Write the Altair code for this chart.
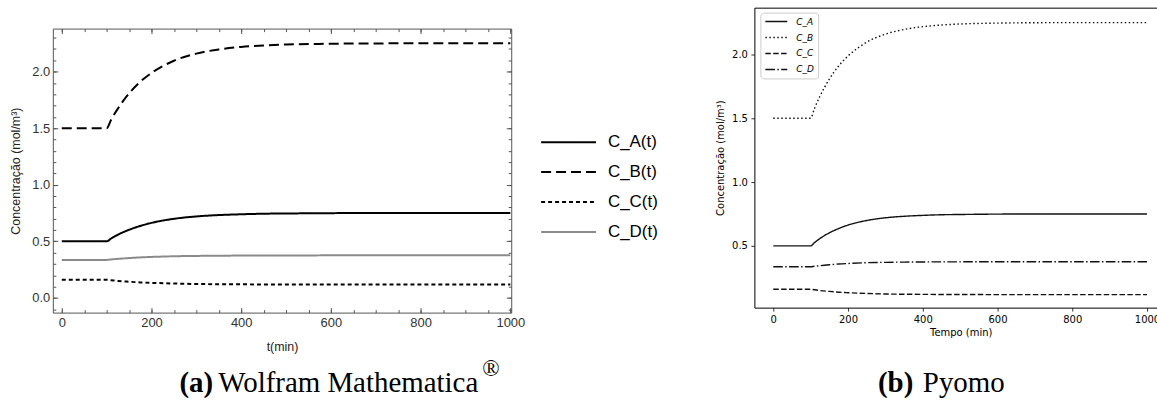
import altair as alt
import pandas as pd

# ---- data -------------------------------------------------------------------
time_min = [0, 100, 110, 125, 150, 175, 200, 250, 300, 350, 400, 450, 500, 600, 700, 800, 900, 1000]
c_a = [0.500, 0.500, 0.525, 0.558, 0.602, 0.636, 0.663, 0.699, 0.720, 0.732, 0.739, 0.744, 0.746, 0.749, 0.750, 0.750, 0.750, 0.750]
c_b = [1.500, 1.500, 1.575, 1.673, 1.807, 1.910, 1.988, 2.096, 2.159, 2.196, 2.218, 2.231, 2.239, 2.246, 2.249, 2.250, 2.250, 2.250]
c_c = [0.160, 0.160, 0.156, 0.150, 0.143, 0.137, 0.133, 0.127, 0.123, 0.121, 0.120, 0.119, 0.119, 0.118, 0.118, 0.118, 0.118, 0.118]
c_d = [0.336, 0.336, 0.340, 0.345, 0.352, 0.358, 0.362, 0.368, 0.371, 0.373, 0.374, 0.375, 0.375, 0.376, 0.376, 0.376, 0.376, 0.376]

series_a = ["C_A(t)", "C_B(t)", "C_C(t)", "C_D(t)"]
series_b = ["C_A", "C_B", "C_C", "C_D"]

x_major = [0, 200, 400, 600, 800, 1000]
x_minor_a = [0, 50, 100, 150, 200, 250, 300, 350, 400, 450, 500, 550, 600, 650, 700, 750, 800, 850, 900, 950, 1000]
y_major_a = [0.0, 0.5, 1.0, 1.5, 2.0]
y_minor_a = [-0.1, 0.0, 0.1, 0.2, 0.3, 0.4, 0.5, 0.6, 0.7, 0.8, 0.9, 1.0, 1.1, 1.2, 1.3, 1.4, 1.5, 1.6, 1.7, 1.8, 1.9, 2.0, 2.1, 2.2, 2.3]
y_major_b = [0.5, 1.0, 1.5, 2.0]

caption_a = ["(a)", "Wolfram Mathematica", "®"]
caption_b = ["(b)", "Pyomo"]


def long_table(names):
    rows = []
    for name, vals in zip(names, [c_a, c_b, c_c, c_d]):
        for t, v in zip(time_min, vals):
            rows.append({"t": t, "c": v, "s": name})
    return pd.DataFrame(rows)


df_a = long_table(series_a)
df_b = long_table(series_b)
one = pd.DataFrame({"k": [0]})

# ---- panel (a): Mathematica style -------------------------------------------
W1, H1 = 460, 285
FRAME = "#555555"
xs_a = alt.Scale(domain=[-20, 1002], nice=False, zero=False)
ys_a = alt.Scale(domain=[-0.13, 2.38], nice=False, zero=False)


def in_axis(orient, values, size, labels=False, **kw):
    return alt.Axis(orient=orient, values=values, offset=-size, tickSize=size,
                    domain=False, grid=False, tickColor=FRAME, tickWidth=1,
                    labels=labels, **kw)


ax_bottom_a = in_axis("bottom", x_major, 5, labels=True, labelPadding=4, format="d",
                      labelFont="Liberation Sans", labelFontSize=13, labelColor="#333333",
                      labelFlush=False, labelOverlap=False,
                      title="t(min)", titleFont="Liberation Sans", titleFontSize=12.5,
                      titleFontWeight="normal", titleColor="#222222", titlePadding=11)
ax_left_a = in_axis("left", y_major_a, 5, labels=True, labelPadding=3, format=".1f",
                    labelFont="Liberation Sans", labelFontSize=13, labelColor="#333333",
                    labelOverlap=False,
                    title="Concentração (mol/m³)", titleFont="Liberation Sans", titleFontSize=12.5,
                    titleFontWeight="normal", titleColor="#222222", titlePadding=9)

leg_a = alt.Legend(title=None, orient="none", legendX=489, legendY=104,
                   symbolType="stroke", symbolSize=3025, symbolStrokeWidth=2,
                   labelFont="Liberation Sans", labelFontSize=17, labelColor="#000000",
                   labelOffset=11, clipHeight=20, rowPadding=10, padding=0)

color_a = alt.Scale(domain=series_a, range=["#000000", "#000000", "#000000", "#8a8a8a"])
dash_a = alt.Scale(domain=series_a, range=[[1, 0], [10, 5], [4, 3], [1, 0]])

base_a = alt.Chart(df_a)
lines_a = base_a.mark_line(strokeWidth=2, interpolate="monotone").encode(
    x=alt.X("t:Q", scale=xs_a, axis=ax_bottom_a),
    y=alt.Y("c:Q", scale=ys_a, axis=ax_left_a),
    color=alt.Color("s:N", scale=color_a, legend=leg_a),
    strokeDash=alt.StrokeDash("s:N", scale=dash_a, legend=leg_a),
)
ghost_major_a = base_a.mark_line(opacity=0).encode(
    x=alt.X("t:Q", scale=xs_a, axis=in_axis("top", x_major, 5, title=None)),
    y=alt.Y("c:Q", scale=ys_a, axis=in_axis("right", y_major_a, 5, title=None)),
    detail="s:N",
)
ghost_minor_a = base_a.mark_line(opacity=0).encode(
    x=alt.X("t:Q", scale=xs_a, axis=in_axis("bottom", x_minor_a, 3, title=None)),
    y=alt.Y("c:Q", scale=ys_a, axis=in_axis("left", y_minor_a, 3, title=None)),
    detail="s:N",
)
ghost_minor_a2 = base_a.mark_line(opacity=0).encode(
    x=alt.X("t:Q", scale=xs_a, axis=in_axis("top", x_minor_a, 3, title=None)),
    y=alt.Y("c:Q", scale=ys_a, axis=in_axis("right", y_minor_a, 3, title=None)),
    detail="s:N",
)

cap_font = "Liberation Serif"
cap_a1 = alt.Chart(one).mark_text(font=cap_font, fontSize=29, fontWeight="bold", align="left",
                                  baseline="alphabetic", color="#000000").encode(
    x=alt.value(127), y=alt.value(365), text=alt.value(caption_a[0]))
cap_a2 = alt.Chart(one).mark_text(font=cap_font, fontSize=29, align="left",
                                  baseline="alphabetic", color="#000000").encode(
    x=alt.value(166), y=alt.value(365), text=alt.value(caption_a[1]))
cap_a3 = alt.Chart(one).mark_text(font=cap_font, fontSize=23, align="left",
                                  baseline="alphabetic", color="#000000").encode(
    x=alt.value(431), y=alt.value(349), text=alt.value(caption_a[2]))

panel_a = alt.layer(lines_a, ghost_major_a, ghost_minor_a, ghost_minor_a2,
                    cap_a1, cap_a2, cap_a3).resolve_axis(
    x="independent", y="independent").properties(
    width=W1, height=H1,
    view=alt.ViewBackground(stroke=FRAME, strokeWidth=1))

# ---- panel (b): matplotlib / Pyomo style ------------------------------------
# plot frame reaches 21 px above the shared row origin of panel (a)
W2, H2 = 404, 280
RAISE = 21
xs_b = alt.Scale(domain=[-50.5, 1026.8], nice=False, zero=False)
ys_b = alt.Scale(domain=[0.016, 2.367], nice=False, zero=False, range=[H2, -RAISE])

ax_bottom_b = alt.Axis(orient="bottom", values=x_major, tickSize=3.5, tickColor="#000000",
                       tickWidth=0.8, domain=True, domainColor="#000000", domainWidth=1,
                       grid=False, labelPadding=3.5, format="d", labelFont="DejaVu Sans",
                       labelFontSize=10, labelColor="#000000", labelFlush=False,
                       labelOverlap=False, title="Tempo (min)", titleFont="DejaVu Sans",
                       titleFontSize=10, titleFontWeight="normal", titleColor="#000000",
                       titlePadding=3, titleX=207)
ax_left_b = alt.Axis(orient="left", values=y_major_b, tickSize=3.5, tickColor="#000000",
                     tickWidth=0.8, domain=True, domainColor="#000000", domainWidth=1,
                     grid=False, labelPadding=3.5, format=".1f", labelFont="DejaVu Sans",
                     labelFontSize=10, labelColor="#000000", labelOverlap=False,
                     title="Concentração (mol/m³)", titleFont="DejaVu Sans",
                     titleFontSize=10, titleFontWeight="normal", titleColor="#000000",
                     titlePadding=6)
ax_top_b = alt.Axis(orient="top", values=x_major, ticks=False, labels=False, domain=True,
                    domainColor="#000000", domainWidth=1, grid=False, title=None,
                    offset=RAISE)

leg_b = alt.Legend(title=None, orient="none", legendX=6, legendY=5 - RAISE,
                   symbolType="stroke", symbolSize=484, symbolStrokeWidth=1.5,
                   labelFont="DejaVu Sans", labelFontSize=9, labelFontStyle="italic",
                   labelColor="#000000", labelOffset=8, clipHeight=10, rowPadding=6,
                   padding=4, strokeColor="#cccccc", fillColor="#ffffff", cornerRadius=3)

color_b = alt.Scale(domain=series_b, range=["#111111", "#111111", "#111111", "#111111"])
dash_b = alt.Scale(domain=series_b, range=[[1, 0], [1.5, 2.5], [5.5, 2.4], [9.6, 2.4, 1.5, 2.4]])

base_b = alt.Chart(df_b)
lines_b = base_b.mark_line(strokeWidth=1.4, interpolate="monotone").encode(
    x=alt.X("t:Q", scale=xs_b, axis=ax_bottom_b),
    y=alt.Y("c:Q", scale=ys_b, axis=ax_left_b),
    color=alt.Color("s:N", scale=color_b, legend=leg_b),
    strokeDash=alt.StrokeDash("s:N", scale=dash_b, legend=leg_b),
)
ghost_b = base_b.mark_line(opacity=0).encode(
    x=alt.X("t:Q", scale=xs_b, axis=ax_top_b),
    y=alt.Y("c:Q", scale=ys_b, axis=None),
    detail="s:N",
)
cap_b1 = alt.Chart(one).mark_text(font=cap_font, fontSize=29, fontWeight="bold", align="left",
                                  baseline="alphabetic", color="#000000").encode(
    x=alt.value(124), y=alt.value(365), text=alt.value(caption_b[0]))
cap_b2 = alt.Chart(one).mark_text(font=cap_font, fontSize=29, align="left",
                                  baseline="alphabetic", color="#000000").encode(
    x=alt.value(169), y=alt.value(365), text=alt.value(caption_b[1]))

panel_b = alt.layer(lines_b, ghost_b, cap_b1, cap_b2).resolve_axis(
    x="independent", y="independent").properties(
    width=W2, height=H2,
    view=alt.ViewBackground(stroke="transparent", strokeWidth=0))

chart = alt.hconcat(panel_a, panel_b, spacing=56).properties(
    padding={"left": 9, "top": 7, "right": -3, "bottom": 0},
    background="#ffffff",
).resolve_scale(color="independent", strokeDash="independent")

chart.save("out.html", embed_options={"renderer": "svg", "actions": False})
